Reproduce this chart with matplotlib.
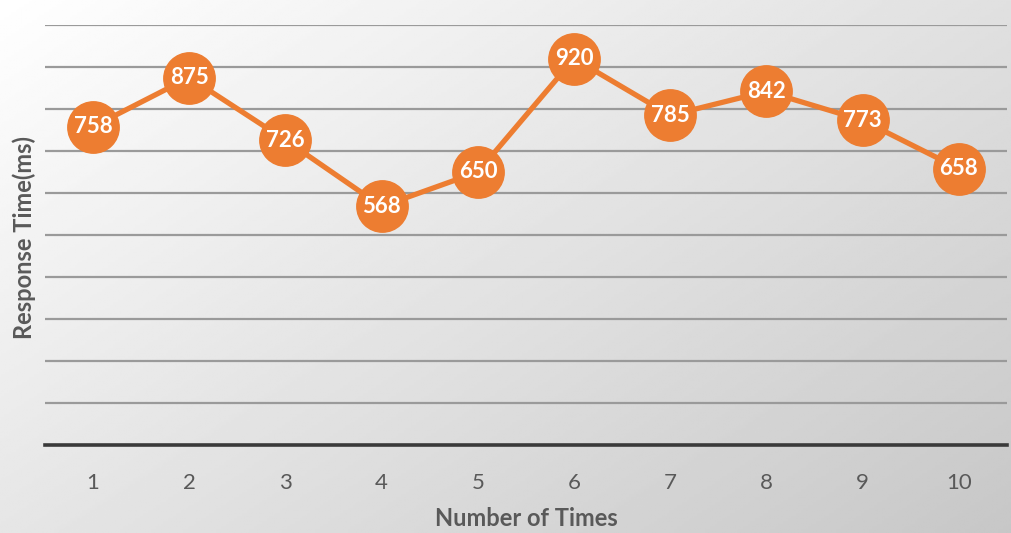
import numpy as np
import matplotlib
matplotlib.use("Agg")
import matplotlib.pyplot as plt

# data
runs = [1, 2, 3, 4, 5, 6, 7, 8, 9, 10]
response_ms = [758, 875, 726, 568, 650, 920, 785, 842, 773, 658]
tick_labels = [str(r) for r in runs]

orange = "#ED7D31"
text_gray = "#595959"

fig = plt.figure(figsize=(10.12, 5.33), dpi=100)

# gradient background (white top-left -> gray bottom-right)
bg = fig.add_axes([0, 0, 1, 1])
yy, xx = np.mgrid[0:1:200j, 0:1:400j]
grad = 1.0 - 0.22 * (0.55 * xx + 0.45 * yy)
bg.imshow(grad, cmap="gray", vmin=0, vmax=1, aspect="auto", extent=[0, 1, 1, 0])
bg.axis("off")

ax = fig.add_axes([45 / 1012, 1 - 445 / 533, 962 / 1012, 420 / 533])
ax.patch.set_alpha(0)
ax.set_xlim(0.5, 10.5)
ax.set_ylim(0, 1000)

for yv in range(100, 1001, 100):
    ax.axhline(yv, color="#9a9a9a", lw=1.6, zorder=1)
ax.axhline(0, color="#3a3a3a", lw=2.6, zorder=1, clip_on=False)

ax.plot(runs, response_ms, color=orange, lw=3.8, marker="o", markersize=37,
        markerfacecolor=orange, markeredgecolor=orange, zorder=3)
for x, y in zip(runs, response_ms):
    ax.text(x, y, str(y), ha="center", va="center", color="white",
            fontsize=16, fontweight="bold", family="Lato", zorder=4)

for s in ax.spines.values():
    s.set_visible(False)
ax.set_yticks([])
ax.set_xticks(runs)
ax.set_xticklabels(tick_labels, fontsize=16, color=text_gray, family="Lato")
ax.tick_params(axis="x", length=0, pad=20)

ax.set_xlabel("Number of Times", fontsize=17, fontweight="bold", color=text_gray,
              family="Lato", labelpad=10)
fig.text(24 / 1012, 1 - 238 / 533, "Response Time(ms)", rotation=90, ha="center",
         va="center", fontsize=17, fontweight="bold", color=text_gray, family="Lato")

fig.savefig("out.png", dpi=100)
